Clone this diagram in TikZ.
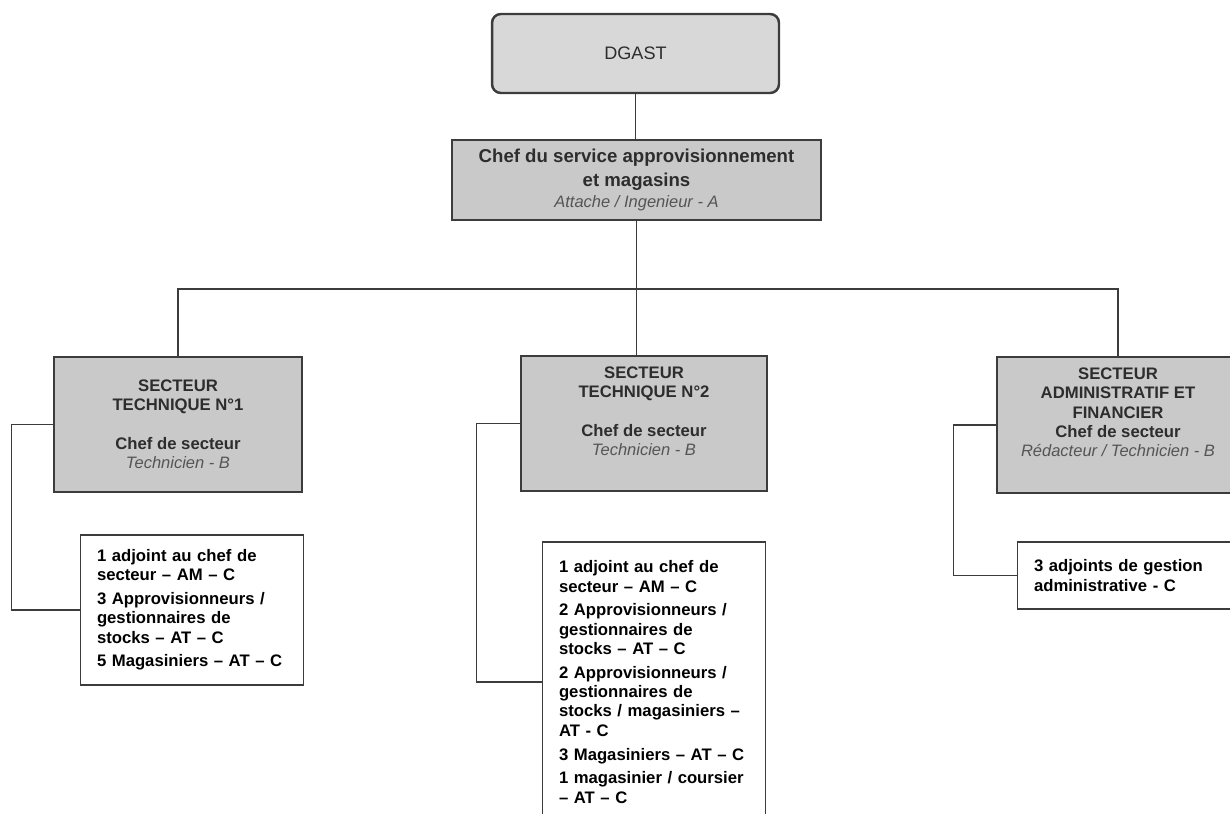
\documentclass[tikz,border=0pt]{standalone}
\usepackage{fontspec}
\setmainfont{Liberation Sans}
\usepackage{xcolor}
\usepackage{tikz}
\usetikzlibrary{calc}

\definecolor{boxgray}{RGB}{201,201,201}
\definecolor{topgray}{RGB}{216,216,216}
\definecolor{edgegray}{RGB}{60,60,60}
\definecolor{headgray}{RGB}{45,45,45}
\definecolor{rolegray}{RGB}{85,85,85}

\newcommand{\role}[1]{{\fontsize{9.4}{11}\selectfont\mdseries\itshape\color{rolegray}#1}}

\begin{document}
\begin{tikzpicture}[x=0.02cm, y=-0.02cm,
  unit/.style={draw=edgegray, line width=0.85pt, fill=boxgray, align=center,
    text=headgray, font=\fontsize{9.5}{11}\selectfont\bfseries, inner sep=2pt},
  staff/.style={draw=edgegray, line width=0.85pt, fill=white, align=left,
    text=black, font=\fontsize{9.5}{11}\selectfont\bfseries,
    minimum width=4.46cm, text width=3.8cm, inner xsep=0.33cm},
  link/.style={draw=edgegray, line width=0.7pt}]

\useasboundingbox (0,0) rectangle (1230,814);
\clip (0,0) rectangle (1230,814);

%-- top of the chart
\node[unit, rounded corners=5pt, fill=topgray, line width=1.4pt,
  minimum width=5.74cm, minimum height=1.58cm,
  font=\fontsize{10.3}{12}\selectfont] (dgast) at (635.5,53.5) {DGAST};

\node[unit, minimum width=7.38cm, minimum height=1.6cm,
  font=\fontsize{10.6}{13.8}\selectfont\bfseries] (chef) at (636.5,180)
  {Chef du service approvisionnement\\et magasins\\[-2pt]
   \role{Attache / Ingenieur - A}};

%-- the three sectors
\node[unit, minimum width=4.96cm, minimum height=2.7cm] (st1) at (178,424.5)
  {SECTEUR\\TECHNIQUE N°1\\ \\Chef de secteur\\ \role{Technicien - B}};
\node[unit, minimum width=4.92cm, minimum height=2.7cm] (st2) at (644,423.5)
  {SECTEUR\\TECHNIQUE N°2\\ \\Chef de secteur\\ \role{Technicien - B}\\ \strut};
\node[unit, minimum width=4.84cm, minimum height=2.72cm] (adm) at (1118,425)
  {SECTEUR\\ADMINISTRATIF ET\\FINANCIER\\Chef de secteur\\
   \role{Rédacteur / Technicien - B}\\ \strut};

%-- staff of each sector
\node[staff, minimum height=3cm] (staffA) at (192,610)
  {1 adjoint au chef de\\secteur – AM – C\\[2.5pt]
   3 Approvisionneurs /\\gestionnaires de\\stocks – AT – C\\[2.5pt]
   5 Magasiniers – AT – C};
\node[staff, minimum width=4.44cm, minimum height=5.6cm] (staffB) at (654,682)
  {1 adjoint au chef de\\secteur – AM – C\\[2.5pt]
   2 Approvisionneurs /\\gestionnaires de\\stocks – AT – C\\[2.5pt]
   2 Approvisionneurs /\\gestionnaires de\\stocks / magasiniers –\\AT - C\\[2.5pt]
   3 Magasiniers – AT – C\\[2.5pt]
   1 magasinier / coursier\\– AT – C};
\node[staff, minimum height=1.34cm] (staffC) at (1129,575.5)
  {3 adjoints de gestion\\administrative - C};

%-- connectors
\coordinate (bus) at (636.5,289);
\draw[link] (dgast.south) -- (dgast.south |- chef.north);
\draw[link] (chef.south) -- (bus);
\draw[link] (st1.north) |- (bus) -| (adm.north);
\draw[link] (bus) -- (bus |- st2.north);

\draw[link] (st1.west) -- +(-42,0) |- (staffA.west);
\draw[link] (st2.west) -- +(-44,0) |- (staffB.west);
\draw[link] (adm.west) -- +(-43,0) |- (staffC.west);

\end{tikzpicture}
\end{document}
